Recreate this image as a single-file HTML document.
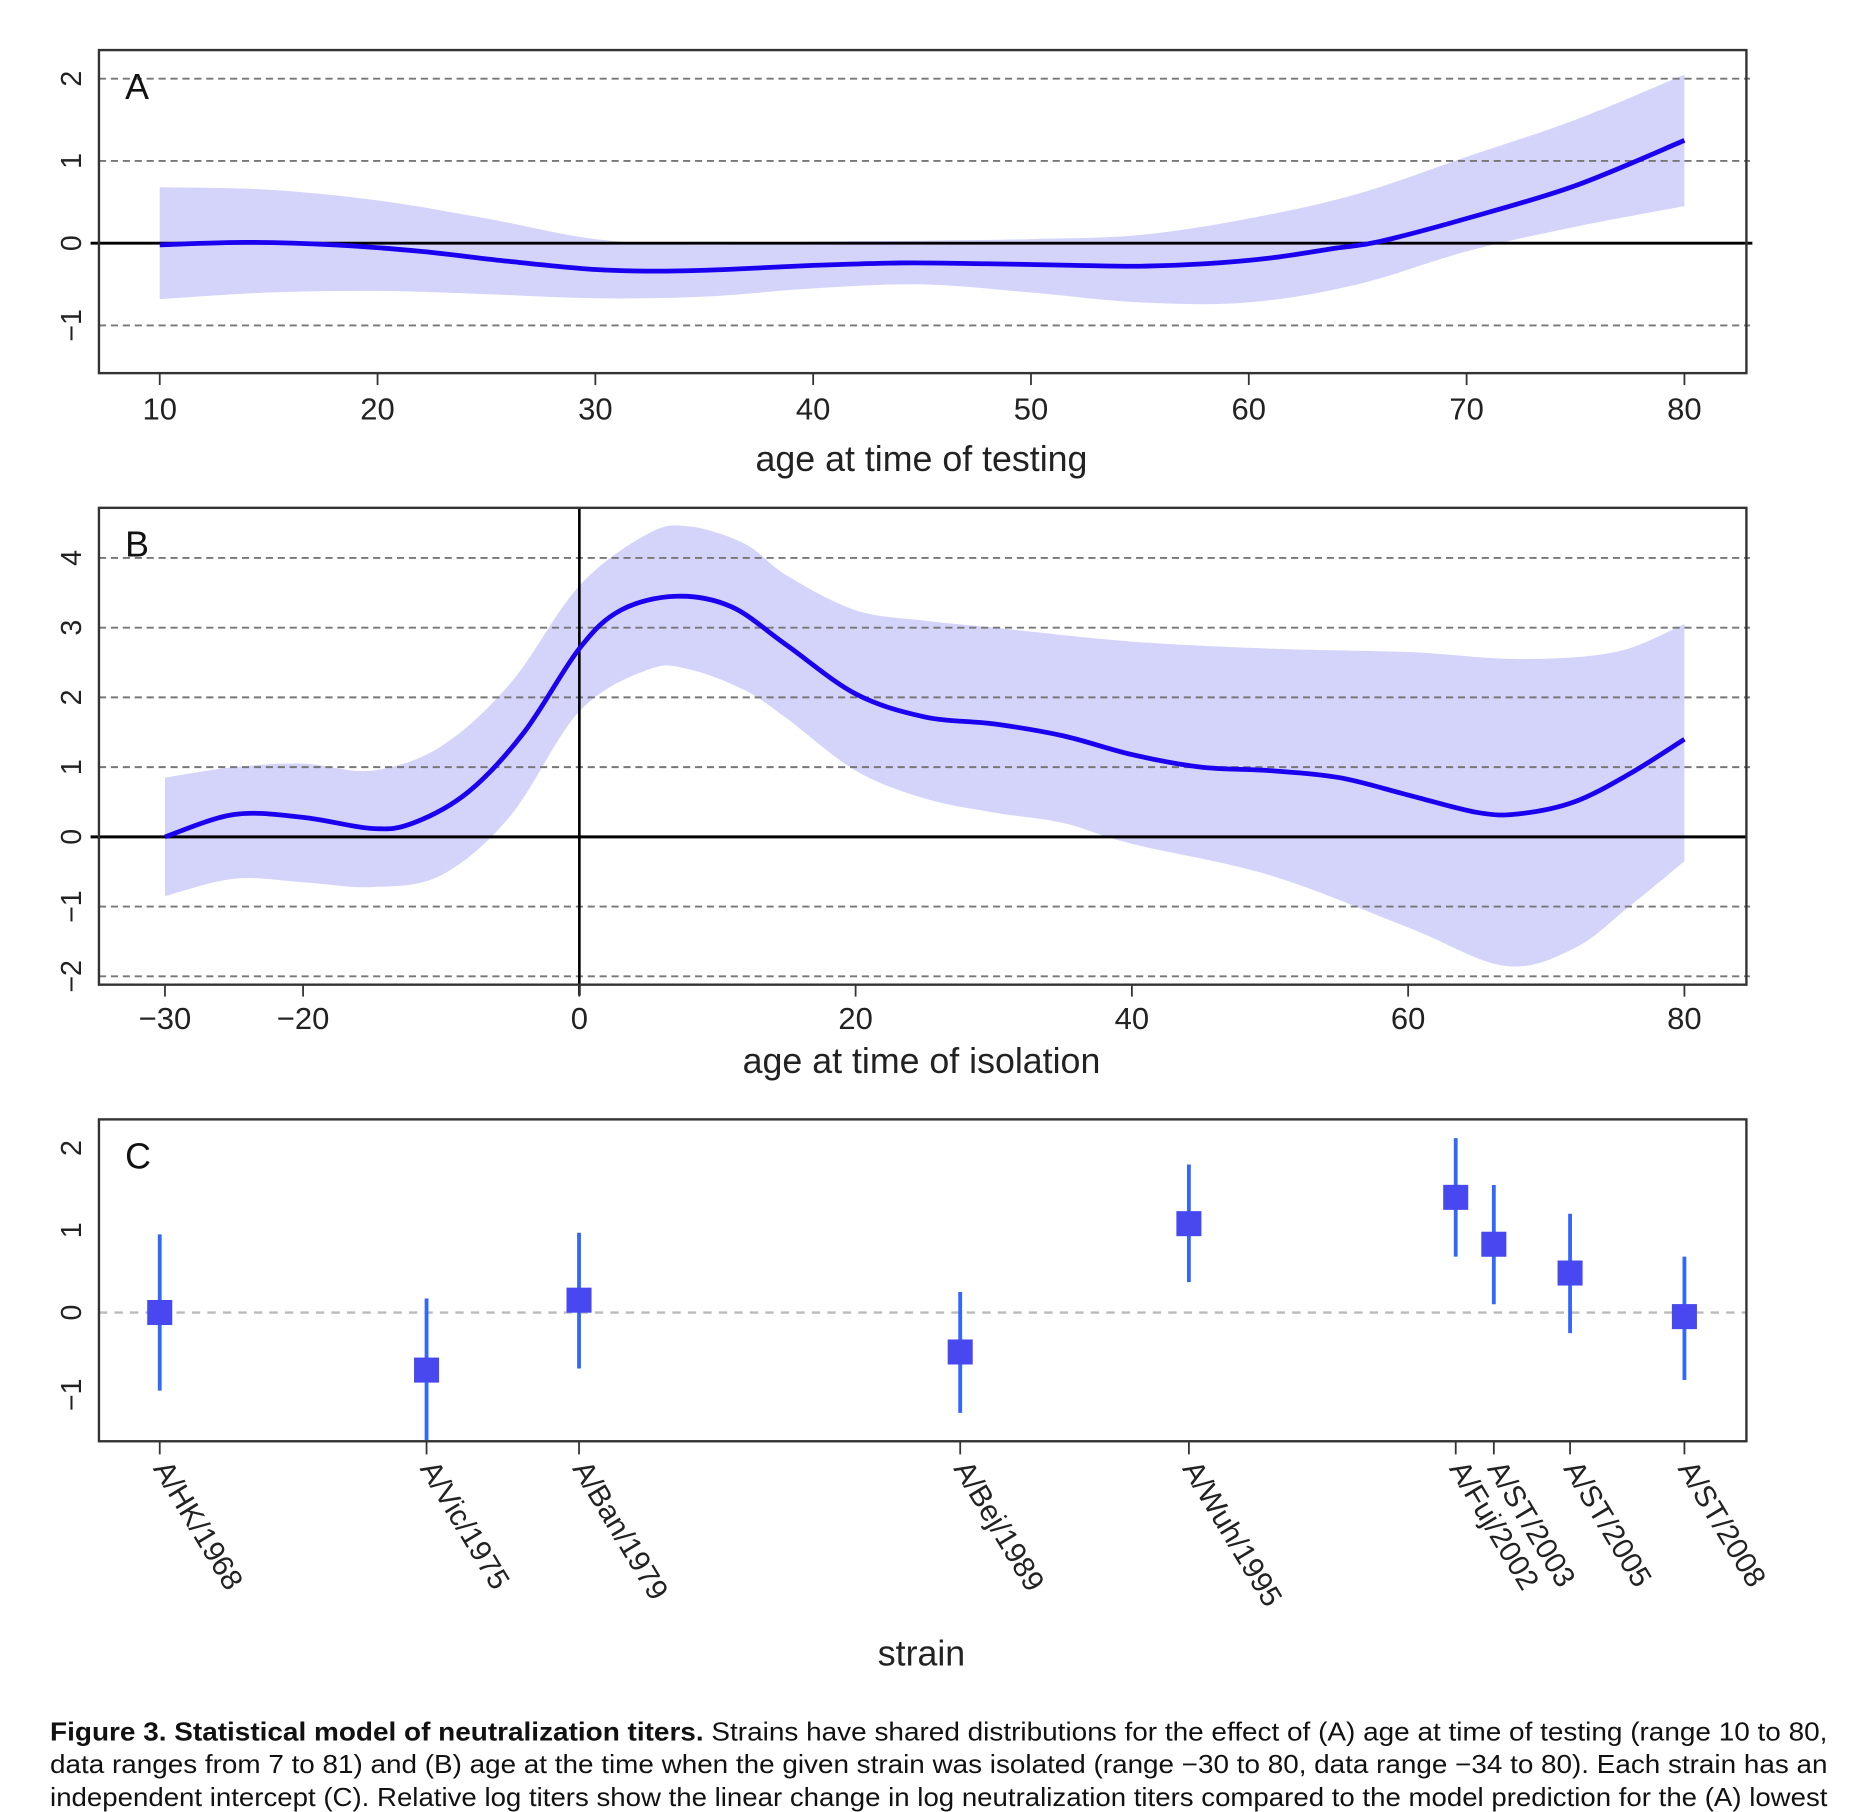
<!DOCTYPE html>
<html><head><meta charset="utf-8"><style>
html,body{margin:0;padding:0;background:#fff;}
svg{display:block;font-family:"Liberation Sans",sans-serif;}
</style></head><body>
<svg id="fig" width="1868" height="1812" viewBox="0 0 1567 1520" preserveAspectRatio="none"></svg>
<script>
// Panel A data
const aX=[10,14,18,22,26,30,33,36,40,44,48,52,55,58,61,64,66,70,75,80];
const aMean=[-0.02,0.01,-0.02,-0.1,-0.22,-0.32,-0.34,-0.32,-0.27,-0.24,-0.25,-0.27,-0.28,-0.25,-0.18,-0.06,0.02,0.3,0.7,1.25];
const aBX=[10,15,20,25,30,35,40,45,50,55,60,65,70,75,80];
const aUpper=[0.68,0.65,0.52,0.3,0.05,-0.02,0.02,0.03,0.05,0.1,0.3,0.6,1.05,1.5,2.05];
const aLower=[-0.68,-0.6,-0.58,-0.62,-0.67,-0.65,-0.55,-0.5,-0.6,-0.72,-0.72,-0.5,-0.1,0.2,0.45];
const aXTicks=[10,20,30,40,50,60,70,80];
const aYTicks=[-1,0,1,2];
// Panel B data
const bX=[-30,-25,-20,-15,-12,-8,-4,0,3,7,11,15,20,25,30,35,40,45,50,55,60,65,68,72,76,80];
const bMean=[0,0.32,0.28,0.12,0.2,0.65,1.5,2.7,3.25,3.45,3.3,2.75,2.05,1.72,1.62,1.45,1.18,1.0,0.95,0.85,0.6,0.35,0.33,0.5,0.9,1.4];
const bUX=[-30,-25,-20,-15,-10,-5,0,5,8,12,15,20,25,30,40,50,60,68,75,80];
const bUpper=[0.85,1.0,1.05,0.95,1.3,2.2,3.6,4.35,4.45,4.2,3.75,3.25,3.1,3.0,2.8,2.7,2.65,2.55,2.65,3.05];
const bLX=[-30,-25,-20,-15,-10,-5,0,5,8,12,15,20,25,30,35,40,50,60,67,72,76,80];
const bLower=[-0.85,-0.6,-0.65,-0.72,-0.55,0.3,1.8,2.4,2.4,2.1,1.7,0.95,0.55,0.35,0.2,-0.1,-0.55,-1.3,-1.85,-1.6,-1.0,-0.35];
const bXTicks=[-30,-20,0,20,40,60,80];
const bYTicks=[-2,-1,0,1,2,3,4];
// Panel C data
const strains=["A/HK/1968","A/Vic/1975","A/Ban/1979","A/Bej/1989","A/Wuh/1995","A/Fuj/2002","A/ST/2003","A/ST/2005","A/ST/2008"];
const years=[1968,1975,1979,1989,1995,2002,2003,2005,2008];
const cEst=[0,-0.7,0.15,-0.48,1.08,1.4,0.83,0.48,-0.05];
const cLo=[-0.95,-1.55,-0.68,-1.22,0.37,0.68,0.1,-0.25,-0.82];
const cHi=[0.95,0.17,0.97,0.25,1.8,2.12,1.55,1.2,0.68];
const cYTicks=[-1,0,1,2];

const NS="http://www.w3.org/2000/svg";
const svg=document.getElementById('fig');
function el(t,a,p){const e=document.createElementNS(NS,t);for(const k in a)e.setAttribute(k,a[k]);(p||svg).appendChild(e);return e;}
function lin(d0,d1,r0,r1){return v=>r0+(v-d0)*(r1-r0)/(d1-d0);}
function smooth(pts){let d="M"+pts[0][0]+","+pts[0][1];for(let i=0;i<pts.length-1;i++){const p0=pts[Math.max(0,i-1)],p1=pts[i],p2=pts[i+1],p3=pts[Math.min(pts.length-1,i+2)];d+=" C"+(p1[0]+(p2[0]-p0[0])/6)+","+(p1[1]+(p2[1]-p0[1])/6)+" "+(p2[0]-(p3[0]-p1[0])/6)+","+(p2[1]-(p3[1]-p1[1])/6)+" "+p2[0]+","+p2[1];}return d;}
function frame(g,top,bot){const r=el('rect',{x:83,y:top,width:1382,height:bot-top,fill:'none',stroke:'#333','stroke-width':2},g);}
function yLabels(g,ticks,ys){ticks.forEach(v=>{const y=ys(v);const t=el('text',{x:0,y:0,transform:`translate(68,${y}) rotate(-90)`,'text-anchor':'middle','font-size':24,fill:'#222'},g);t.textContent=v<0?'\u2212'+Math.abs(v):String(v);});}
function xTicks(g,ticks,xs,yAxis,yLab){ticks.forEach(v=>{const x=xs(v);const l=el('line',{x1:x,x2:x,y1:yAxis,y2:yAxis+10,stroke:'#333','stroke-width':1.5},g);const t=el('text',{x:x,y:yLab,'text-anchor':'middle','font-size':26,fill:'#222'},g);t.textContent=v<0?'\u2212'+Math.abs(v):String(v);});}
function band(g,xs,ys,ux,uy,lx,ly){const up=ux.map((v,i)=>[xs(v),ys(uy[i])]);const lo=lx.map((v,i)=>[xs(v),ys(ly[i])]).reverse();let d=smooth(up);d+=" L"+lo[0][0]+","+lo[0][1]+smooth(lo).replace(/^M[^C]*/,' ')+"Z";const p=el('path',{d:d,fill:'#d4d4fb',stroke:'none'},g);}

// ===== Panel A =====
const gA=el('g',{});
const xA=lin(10,80,134,1413), yA=lin(0,1,204,135);
band(gA,xA,yA,aBX,aUpper,aBX,aLower);
aYTicks.filter(v=>v!==0).forEach(v=>{const l=el('line',{x1:83,x2:1468,y1:yA(v),y2:yA(v),stroke:'#777','stroke-width':1.6,'stroke-dasharray':'6 4'},gA);});
{const l=el('line',{x1:76,x2:1470,y1:yA(0),y2:yA(0),stroke:'#000','stroke-width':2.5},gA);}
{const p=el('path',{d:smooth(aX.map((v,i)=>[xA(v),yA(aMean[i])])),fill:'none',stroke:'#1a00ee','stroke-width':4},gA);}
frame(gA,42,313);yLabels(gA,aYTicks,yA);xTicks(gA,aXTicks,xA,313,352);
{const t=el('text',{x:105,y:83,'font-size':30,fill:'#111'},gA);t.textContent='A';}
{const t=el('text',{x:773,y:395,'text-anchor':'middle','font-size':30,fill:'#222'},gA);t.textContent='age at time of testing';}

// ===== Panel B =====
const gB=el('g',{});
const xB=lin(0,80,486,1413), yB=lin(0,1,702,643.5);
band(gB,xB,yB,bUX,bUpper,bLX,bLower);
bYTicks.filter(v=>v!==0).forEach(v=>{const l=el('line',{x1:83,x2:1468,y1:yB(v),y2:yB(v),stroke:'#777','stroke-width':1.6,'stroke-dasharray':'6 4'},gB);});
{const l=el('line',{x1:76,x2:1465,y1:yB(0),y2:yB(0),stroke:'#000','stroke-width':2.5},gB);}
{const l=el('line',{x1:xB(0),x2:xB(0),y1:426,y2:835,stroke:'#000','stroke-width':2.2},gB);}
{const p=el('path',{d:smooth(bX.map((v,i)=>[xB(v),yB(bMean[i])])),fill:'none',stroke:'#1a00ee','stroke-width':4},gB);}
frame(gB,426,826);yLabels(gB,bYTicks,yB);xTicks(gB,bXTicks,xB,826,863);
{const t=el('text',{x:105,y:467,'font-size':30,fill:'#111'},gB);t.textContent='B';}
{const t=el('text',{x:773,y:900,'text-anchor':'middle','font-size':30,fill:'#222'},gB);t.textContent='age at time of isolation';}

// ===== Panel C =====
const gC=el('g',{});
const xC=lin(1968,2008,134,1413), yC=lin(0,1,1101,1032);
{const l=el('line',{x1:83,x2:1465,y1:yC(0),y2:yC(0),stroke:'#bbb','stroke-width':2,'stroke-dasharray':'7 6'},gC);}
years.forEach((yr,i)=>{const x=xC(yr);
 const l=el('line',{x1:x,x2:x,y1:yC(cHi[i]),y2:Math.min(yC(cLo[i]),1209),stroke:'#3366ff','stroke-width':3.2},gC);
 const r=el('rect',{x:x-10.5,y:yC(cEst[i])-10.5,width:21,height:21,fill:'#4848f0'},gC);
 const tk=el('line',{x1:x,x2:x,y1:1209,y2:1220,stroke:'#333','stroke-width':1.5},gC);
 const t=el('text',{x:0,y:0,transform:`translate(${x-6},${1232}) rotate(59)`,'font-size':25,fill:'#222'},gC);t.textContent=strains[i];
});
frame(gC,939,1209);yLabels(gC,cYTicks,yC);
{const t=el('text',{x:105,y:980,'font-size':30,fill:'#111'},gC);t.textContent='C';}
{const t=el('text',{x:773,y:1397,'text-anchor':'middle','font-size':30,fill:'#222'},gC);t.textContent='strain';}

// ===== Caption =====
const cap=[
 ["Figure 3. Statistical model of neutralization titers.","Strains have shared distributions for the effect of (A) age at time of testing (range 10 to 80,"],
 ["","data ranges from 7 to 81) and (B) age at the time when the given strain was isolated (range \u221230 to 80, data range \u221234 to 80). Each strain has an"],
 ["","independent intercept (C). Relative log titers show the linear change in log neutralization titers compared to the model prediction for the (A) lowest"]];
cap.forEach((c,i)=>{const t=el('text',{x:42,y:1460+i*27.5,'font-size':21.5,fill:'#111',textLength:1491,lengthAdjust:'spacingAndGlyphs'});
 if(c[0]){const b=el('tspan',{'font-weight':'bold'},t);b.textContent=c[0]+' ';}
 const s=el('tspan',{},t);s.textContent=c[1];
 });
</script>
</body></html>
